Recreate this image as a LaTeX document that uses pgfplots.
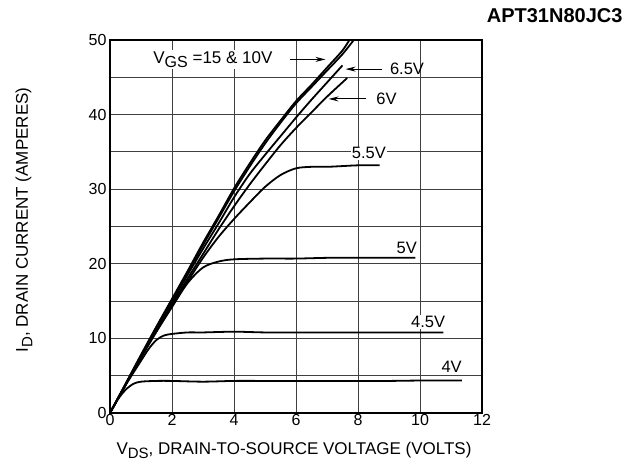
\documentclass[border=0pt]{standalone}
\usepackage{fontspec}
\setmainfont{Liberation Sans}
\usepackage{pgfplots}
\pgfplotsset{compat=1.18}
\usetikzlibrary{arrows.meta}
\newcommand{\lbl}{\fontsize{16.5}{18}\selectfont}
\newcommand{\albl}{\fontsize{17}{19}\selectfont}
\begin{document}
\begin{tikzpicture}[font=\lbl, lab/.style={font=\lbl, inner sep=1pt}]
\useasboundingbox (-110pt,-48pt) rectangle (530pt,413pt);
\begin{axis}[
  at={(0pt,0pt)}, anchor=south west,
  scale only axis, width=372pt, height=373pt,
  xmin=0, xmax=12, ymin=0, ymax=50,
  xtick={0,2,...,12}, ytick={0,10,...,50},
  minor ytick={5,15,...,45},
  grid=both,
  major grid style={line width=0.9pt, black!75},
  minor grid style={line width=0.9pt, black!75},
  axis line style={line width=2.2pt},
  tick style={draw=none},
  /pgf/number format/assume math mode=true,
  ticklabel style={font=\fontsize{16}{18}\selectfont},
  xticklabel style={yshift=2pt},
  curve/.style={black, line width=1.8pt, no markers, smooth, tension=0.5},
  clip=true,
]
% 15 V
\addplot[curve] coordinates {(0,0)(0.5,3.9)(1,7.8)(1.5,11.6)(2,15.3)(2.5,19.0)(3,22.8)(3.5,26.4)(4,30.1)(4.5,33.4)(5,36.5)(5.5,39.2)(6,41.8)(6.5,44.0)(7,46.3)(7.5,48.6)(7.75,50.2)};
% 10 V
\addplot[curve] coordinates {(0,0)(0.5,3.85)(1,7.7)(1.5,11.5)(2,15.1)(2.5,18.8)(3,22.5)(3.5,26.1)(4,29.7)(4.5,33.0)(5,36.1)(5.5,38.9)(6,41.5)(6.5,43.7)(7,45.9)(7.5,48.1)(7.9,50.2)};
% 6.5 V
\addplot[curve] coordinates {(0,0)(0.5,3.8)(1,7.6)(1.5,11.3)(2,14.9)(2.5,18.5)(3,22.0)(3.5,25.4)(4,28.9)(4.5,32.0)(5,34.6)(5.5,37.1)(6,39.6)(6.5,42.0)(7,44.3)(7.5,46.6)};
% 6 V
\addplot[curve] coordinates {(0,0)(0.5,3.75)(1,7.5)(1.5,11.1)(2,14.6)(2.5,18.0)(3,21.3)(3.5,24.6)(4,27.7)(4.5,30.6)(5,33.3)(5.5,35.9)(6,38.2)(6.5,40.3)(7,42.4)(7.65,44.9)};
% 5.5 V
\addplot[curve] coordinates {(0,0)(0.5,3.75)(1,7.5)(1.5,11.0)(2,14.4)(2.5,17.6)(3,20.8)(3.5,23.6)(4,26.0)(4.5,28.2)(5,30.3)(5.5,31.9)(6,32.8)(6.5,33.0)(7,33.0)(7.5,33.1)(8,33.2)(8.7,33.2)};
% 5 V
\addplot[curve] coordinates {(0,0)(0.5,3.75)(1,7.4)(1.5,10.9)(2,14.2)(2.5,17.4)(3,19.5)(3.5,20.3)(4,20.6)(5,20.7)(6,20.7)(7,20.8)(8,20.8)(9,20.8)(9.85,20.8)};
% 4.5 V
\addplot[curve] coordinates {(0,0)(0.5,3.7)(1,7.0)(1.25,8.6)(1.5,9.8)(1.75,10.4)(2,10.6)(2.5,10.8)(3,10.8)(4,10.9)(5,10.8)(6,10.8)(7,10.8)(8,10.8)(9,10.8)(10,10.8)(10.75,10.8)};
% 4 V
\addplot[curve] coordinates {(0,0)(0.25,1.8)(0.5,3.1)(0.75,3.9)(1,4.2)(1.5,4.3)(2,4.3)(3,4.2)(4,4.3)(5,4.3)(6,4.3)(7,4.3)(8,4.3)(9,4.3)(10,4.35)(11.35,4.35)};

\node[lab, fill=white, font=\fontsize{17}{19}\selectfont] at (axis cs:3.32,47.4) {V\raisebox{-0.5ex}{\fontsize{16}{16}\selectfont GS} =15 \& 10V};
\draw[line width=1pt, -{Stealth[length=10pt,width=5pt]}] (axis cs:5.8,47.4) -- (axis cs:6.95,47.4);
\node[lab] at (axis cs:9.58,46.1) {6.5V};
\draw[line width=1pt, -{Stealth[length=10pt,width=5pt]}] (axis cs:8.76,46.1) -- (axis cs:7.6,46.1);
\node[lab] at (axis cs:8.92,42.1) {6V};
\draw[line width=1pt, -{Stealth[length=10pt,width=5pt]}] (axis cs:8.26,42.1) -- (axis cs:7.05,42.1);
\node[lab, fill=white] at (axis cs:8.35,34.8) {5.5V};
\node[lab, fill=white] at (axis cs:9.57,22.1) {5V};
\node[lab, fill=white] at (axis cs:10.26,12.2) {4.5V};
\node[lab, fill=white] at (axis cs:11.02,6.2) {4V};
\end{axis}
\node[rotate=90, font=\albl] at (-86pt,193pt) {I\raisebox{-0.5ex}{\fontsize{15}{15}\selectfont D}, DRAIN CURRENT (AMPERES)};
\node[anchor=base, font=\albl] at (184pt,-41pt) {V\raisebox{-0.5ex}{\fontsize{15}{15}\selectfont DS}, DRAIN-TO-SOURCE VOLTAGE (VOLTS)};
\node[anchor=east, font=\bfseries\fontsize{20}{22}\selectfont] at (516pt,397pt) {APT31N80JC3};
\end{tikzpicture}
\end{document}
